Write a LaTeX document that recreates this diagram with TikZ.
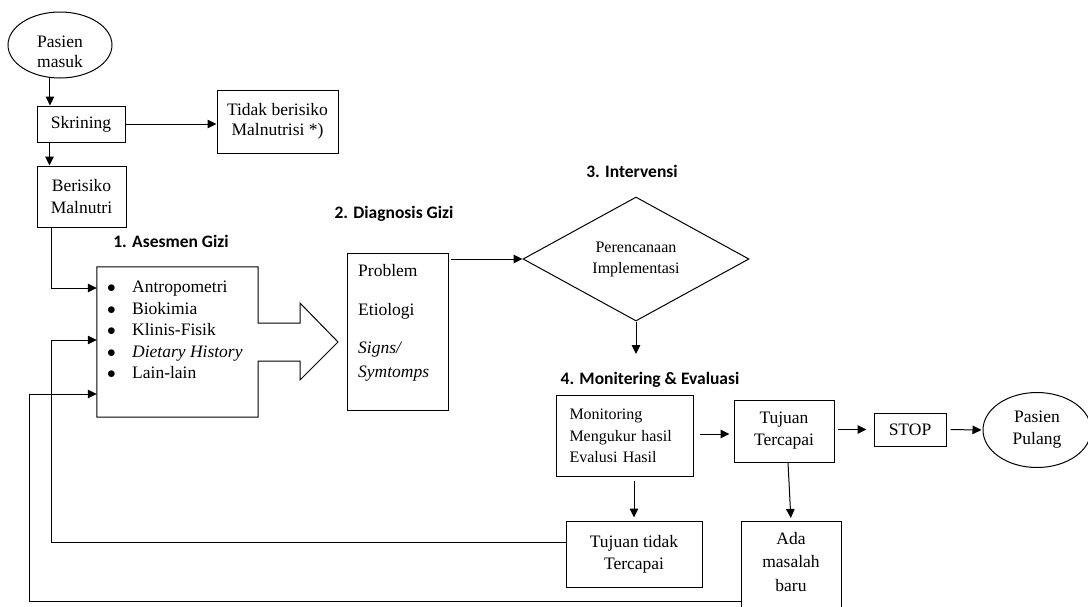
\documentclass[tikz,border=0pt]{standalone}
\usepackage{fontspec}
\setmainfont{Liberation Serif}
\newfontfamily\headfont{Carlito}
\usetikzlibrary{shapes.geometric,arrows.meta}
\tikzset{
  box/.style={draw, line width=1pt, inner sep=0pt, align=center, font=\fontsize{17.5}{22}\selectfont},
  arr/.style={line width=1pt, -{Triangle[length=9pt,width=8.5pt]}},
  heading/.style={font=\headfont\bfseries\fontsize{17.5}{21}\selectfont},
}

\begin{document}
\begin{tikzpicture}[x=1pt,y=-1pt]
        \useasboundingbox (0,0) rectangle (1088,606);
        % skrining
        \node[draw, ellipse, line width=1pt, minimum width=104pt, minimum height=66pt, inner sep=0pt] (masuk) at (60,45) {};
        \node[align=center, font=\fontsize{17.5}{19.5}\selectfont] (masuktxt) at (60,52) {Pasien\\masuk};
        \node[box, minimum width=88pt, minimum height=36pt] (skrining) at (81,124) {Skrining};
        \node[box, minimum width=121pt, minimum height=63pt, font=\fontsize{17.5}{20}\selectfont] (tidak) at (277.5,121.5) {Tidak berisiko\\Malnutrisi *)};
        \node[box, minimum width=89pt, minimum height=61pt] (berisiko) at (81.5,196.5) {Berisiko\\Malnutri};
        % asesmen
        \node[heading] (h1) at (171,241) {1. Asesmen Gizi};
        \node[minimum width=161pt, minimum height=150pt, inner sep=0pt] (asesmen) at (177.5,342) {};
        \draw[line width=1pt] (asesmen.north west) -- (asesmen.north east) -- (258,323) -- (300,323) -- (300,303)
            -- (338,342) -- (300,380) -- (300,361) -- (258,361) -- (asesmen.south east) -- (asesmen.south west) -- cycle;
        \node[anchor=west, align=left, inner sep=0pt, font=\fontsize{17.5}{21.5}\selectfont] (aslist) at (107,330)
            {\makebox[25pt][l]{$\bullet$}Antropometri\\
             \makebox[25pt][l]{$\bullet$}Biokimia\\
             \makebox[25pt][l]{$\bullet$}Klinis-Fisik\\
             \makebox[25pt][l]{$\bullet$}\textit{Dietary History}\\
             \makebox[25pt][l]{$\bullet$}Lain-lain};
        % diagnosis
        \node[heading] (h2) at (394,214) {2. Diagnosis Gizi};
        \node[box, minimum width=101pt, minimum height=157pt] (diag) at (397.5,331.5) {};
        \node[anchor=north west, align=left, inner sep=0pt, font=\fontsize{17.5}{24}\selectfont] (diagtxt) at (358,264)
            {Problem\\[15pt]Etiologi\\[14pt]\textit{Signs/}\\\textit{Symtomps}};
        % intervensi
        \node[heading] (h3) at (632,171) {3. Intervensi};
        \node[draw, diamond, line width=1pt, minimum width=226pt, minimum height=124pt, aspect=1.8, inner sep=0pt,
            align=center, font=\fontsize{16}{21}\selectfont] (interv) at (636,259) {Perencanaan\\Implementasi};
        \coordinate (intend) at (636,354);
        % monitoring
        \node[heading] (h4) at (650,380) {4. Monitering \& Evaluasi};
        \node[box, anchor=north west, text width=111pt, inner xsep=13pt, minimum height=81pt, align=left,
            font=\fontsize{16}{21.5}\selectfont] (monbox) at (556,395) {Monitoring\\Mengukur hasil\\Evalusi Hasil};
        \node[box, minimum width=100pt, minimum height=62pt] (tujuan) at (784,431) {Tujuan\\Tercapai};
        \node[box, minimum width=72pt, minimum height=33pt] (stopbox) at (910,429.5) {STOP};
        \node[draw, ellipse, line width=1pt, minimum width=108pt, minimum height=75pt, inner sep=0pt, align=center,
            font=\fontsize{17.5}{22}\selectfont] (pulang) at (1037,430) {Pasien\\Pulang};
        \node[box, minimum width=136pt, minimum height=66pt] (gagal) at (634,554) {Tujuan tidak\\Tercapai};
        \node[box, anchor=north, minimum width=100pt, minimum height=100pt] (baru) at (791,521) {};
        \node[align=center, font=\fontsize{17.5}{23.5}\selectfont] (barutxt) at (791,562) {Ada\\masalah\\baru};
        % loops back
        \coordinate (loopa) at (51,340);
        \coordinate (loopb) at (29,394);

        \draw[arr] (masuk.-107) -- (masuk.-107 |- skrining.north);
        \draw[arr] (skrining.east) -- (skrining.east -| tidak.west);
        \draw[arr] ([xshift=13pt]skrining.south west) -- ([xshift=13pt]berisiko.north west);
        \draw[arr] (berisiko.south -| loopa) |- ([yshift=54pt]asesmen.west);
        \draw[arr, shorten <=2pt] (diag.east |- interv.west) -- (interv.west);
        \draw[arr] (interv.south) -- (intend);
        \draw[arr, shorten <=6pt, shorten >=4pt] ([yshift=2pt]monbox.east) -- ([yshift=2pt]monbox.east -| tujuan.west);
        \draw[arr, shorten <=3pt, shorten >=7pt] (tujuan.east |- stopbox.west) -- (stopbox.west);
        \draw[arr, shorten <=4pt, shorten >=1pt] (stopbox.east) -- (pulang.west);
        \draw[arr, shorten <=4pt, shorten >=3pt] (monbox.south -| gagal.north) -- (gagal.north);
        \draw[arr, shorten >=3pt] ([xshift=4pt]tujuan.south) -- (baru.north);
        \draw[arr] ([yshift=12pt]gagal.west) -| (loopa) -- (loopa -| asesmen.west);
        \draw[arr] ([yshift=-30pt]baru.west) -| (loopb) -- (loopb -| asesmen.west);
    \end{tikzpicture}
\end{document}
